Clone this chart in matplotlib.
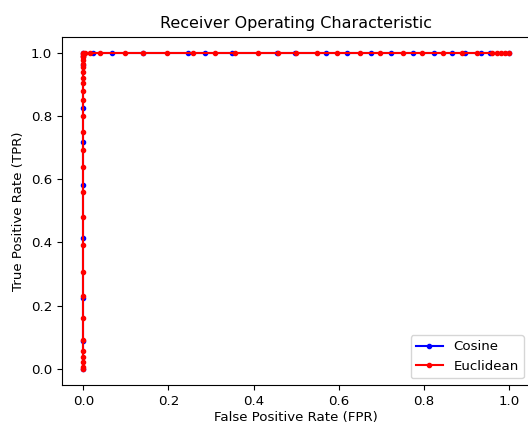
import matplotlib
matplotlib.use("Agg")
import matplotlib.pyplot as plt

# ROC points
cos_fpr = [0.0, 0.0, 0.0, 0.0, 0.0, 0.0, 0.0, 0.0, 0.0, 0.0,
           0.023, 0.067, 0.14, 0.246, 0.286, 0.348, 0.454, 0.497, 0.57, 0.619,
           0.675, 0.722, 0.773, 0.823, 0.865, 0.896, 0.933, 0.954, 1.0]
cos_tpr = [0.0, 0.088, 0.224, 0.413, 0.583, 0.719, 0.826, 0.96, 0.99, 1.0,
           1.0, 1.0, 1.0, 1.0, 1.0, 1.0, 1.0, 1.0, 1.0, 1.0,
           1.0, 1.0, 1.0, 1.0, 1.0, 1.0, 1.0, 1.0, 1.0]

euc_fpr = [0.0, 0.0, 0.0, 0.0, 0.0, 0.0, 0.0, 0.0, 0.0, 0.0,
           0.0, 0.0, 0.0, 0.0, 0.0, 0.0, 0.0, 0.0, 0.0, 0.0,
           0.0, 0.0, 0.0, 0.0, 0.0, 0.0, 0.0, 0.0,
           0.005, 0.016, 0.039, 0.098, 0.14, 0.196, 0.258, 0.309, 0.356, 0.41,
           0.457, 0.50, 0.548, 0.595, 0.649, 0.696, 0.75, 0.795, 0.844, 0.889,
           0.924, 0.96, 0.97, 0.98, 0.99, 1.0]
euc_tpr = [0.0, 0.006, 0.022, 0.038, 0.057, 0.091, 0.161, 0.230, 0.306, 0.391,
           0.479, 0.558, 0.637, 0.693, 0.75, 0.80, 0.85, 0.88, 0.905, 0.92,
           0.94, 0.955, 0.965, 0.975, 0.985, 0.99, 0.995, 1.0,
           1.0, 1.0, 1.0, 1.0, 1.0, 1.0, 1.0, 1.0, 1.0, 1.0,
           1.0, 1.0, 1.0, 1.0, 1.0, 1.0, 1.0, 1.0, 1.0, 1.0,
           1.0, 1.0, 1.0, 1.0, 1.0, 1.0]

plt.rcParams['font.size'] = 9.6

fig = plt.figure(figsize=(5.28, 4.25), dpi=100)
ax = fig.add_axes([0.1174, 0.0945, 0.8875, 0.819])

ax.plot(cos_fpr, cos_tpr, marker='.', linestyle='-', color='b', label='Cosine')
ax.plot(euc_fpr, euc_tpr, marker='.', linestyle='-', color='r', label='Euclidean')

ax.set_xlim(-0.05, 1.05)
ax.set_ylim(-0.05, 1.05)
ax.set_title('Receiver Operating Characteristic')
ax.set_xlabel('False Positive Rate (FPR)', labelpad=2.5)
ax.set_ylabel('True Positive Rate (TPR)')
ax.legend(loc='lower right')

fig.savefig('out.png', dpi=100)
